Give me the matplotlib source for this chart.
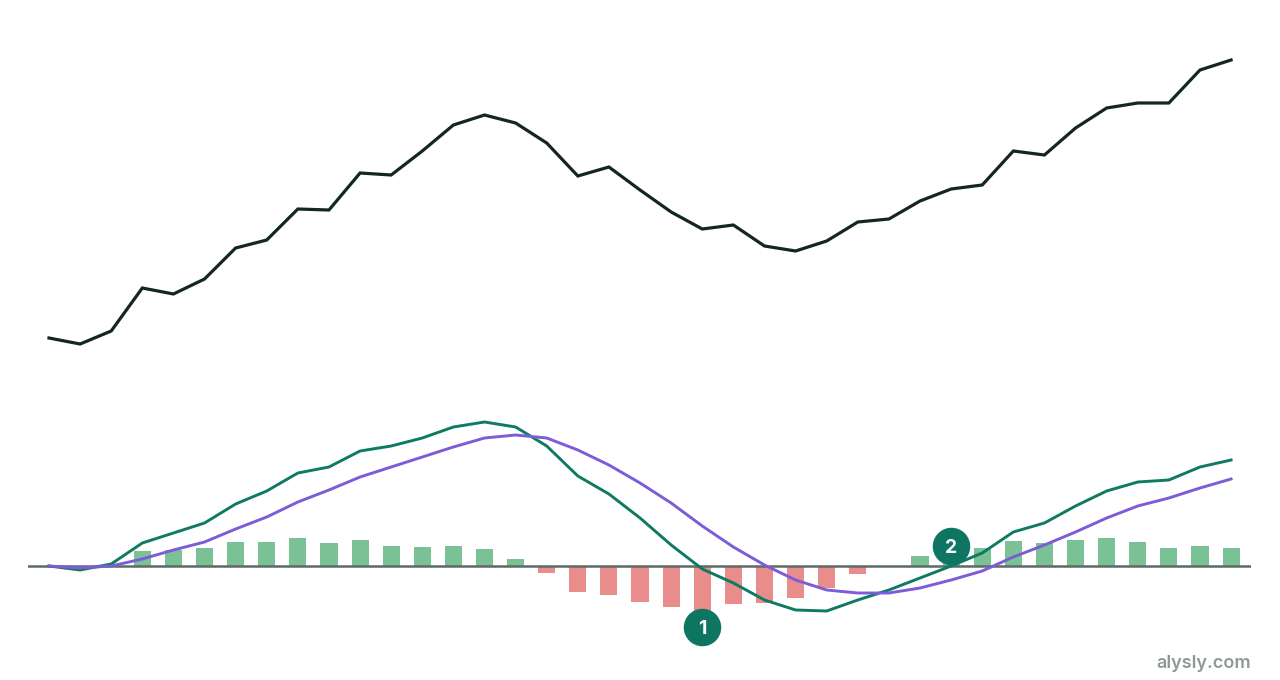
import matplotlib
matplotlib.use("Agg")
import matplotlib.pyplot as plt
import numpy as np

# price series (closing values)
price = [50.6, 50.0, 51.3, 55.6, 55.0, 56.5, 59.6, 60.4, 63.5, 63.4,
         67.1, 66.9, 69.3, 71.9, 72.9, 72.1, 70.1, 66.8, 67.7, 65.4,
         63.2, 61.5, 61.9, 59.8, 59.3, 60.3, 62.2, 62.5, 64.3, 65.5,
         65.9, 69.3, 68.9, 71.6, 73.6, 74.1, 74.1, 77.4, 78.4]

# MACD line, signal line and histogram
macd = [0.00, -0.04, 0.02, 0.23, 0.33, 0.43, 0.62, 0.75, 0.93, 0.99,
        1.15, 1.20, 1.28, 1.39, 1.44, 1.39, 1.20, 0.90, 0.72, 0.48,
        0.21, -0.03, -0.17, -0.34, -0.44, -0.45, -0.34, -0.24, -0.12, 0.00,
        0.13, 0.34, 0.43, 0.60, 0.75, 0.84, 0.86, 0.99, 1.06]
signal = [0.00, -0.02, 0.00, 0.07, 0.16, 0.24, 0.37, 0.49, 0.64, 0.76,
          0.89, 0.99, 1.09, 1.19, 1.28, 1.31, 1.28, 1.16, 1.01, 0.83,
          0.63, 0.40, 0.19, 0.01, -0.14, -0.24, -0.27, -0.27, -0.22, -0.14,
          -0.05, 0.09, 0.21, 0.34, 0.48, 0.60, 0.68, 0.78, 0.87]
hist = [0, 0, 0, 0.15, 0.16, 0.18, 0.24, 0.24, 0.28, 0.23,
        0.26, 0.20, 0.19, 0.20, 0.17, 0.07, -0.07, -0.26, -0.29, -0.36,
        -0.41, -0.45, -0.38, -0.37, -0.32, -0.22, -0.08, 0, 0.10, 0.14,
        0.18, 0.25, 0.23, 0.26, 0.28, 0.24, 0.18, 0.20, 0.18]

# numbered annotations: (index, value, label)
marks_idx = [21, 29]
marks_val = [-0.61, 0.20]
marks_lbl = ["1", "2"]

x = np.arange(len(price))

W, H = 1280, 680
fig = plt.figure(figsize=(W / 100, H / 100), dpi=100)
fig.patch.set_facecolor("white")

left = 28 / W
width = (1251 - 28) / W
xlim = (-0.675, 38.64)

# price panel
ax1 = fig.add_axes([left, 1 - 380 / H, width, 360 / H])
ax1.plot(x, price, color="#13261F", lw=2.3, solid_joinstyle="miter")
ax1.set_xlim(*xlim)
ax1.set_ylim(46.4, 82.4)
ax1.axis("off")

# macd panel
ax2 = fig.add_axes([left, 1 - 660 / H, width, 260 / H])
cols = ["#7BC196" if v >= 0 else "#E88D8B" for v in hist]
ax2.bar(x, hist, width=0.55, color=cols, zorder=1)
ax2.axhline(0, color="#5E6A67", lw=1.8, zorder=2)
ax2.plot(x, macd, color="#0E7A62", lw=2.1, zorder=3)
ax2.plot(x, signal, color="#7C5CD8", lw=2.1, zorder=4)
for i, v, t in zip(marks_idx, marks_val, marks_lbl):
    ax2.plot(i, v, "o", ms=26, color="#0F7563", zorder=5)
    ax2.text(i, v, t, color="white", fontsize=14, fontweight="bold",
             ha="center", va="center_baseline", zorder=6, family="Inter")
ax2.set_xlim(*xlim)
ax2.set_ylim(-0.94, 1.66)
ax2.axis("off")

fig.text(1251 / W, 1 - 664 / H, "alysly.com", ha="right", va="center",
         fontsize=13, fontweight="semibold", color="#8E9A98", family="Inter")

fig.savefig("out.png", dpi=100, facecolor="white")
